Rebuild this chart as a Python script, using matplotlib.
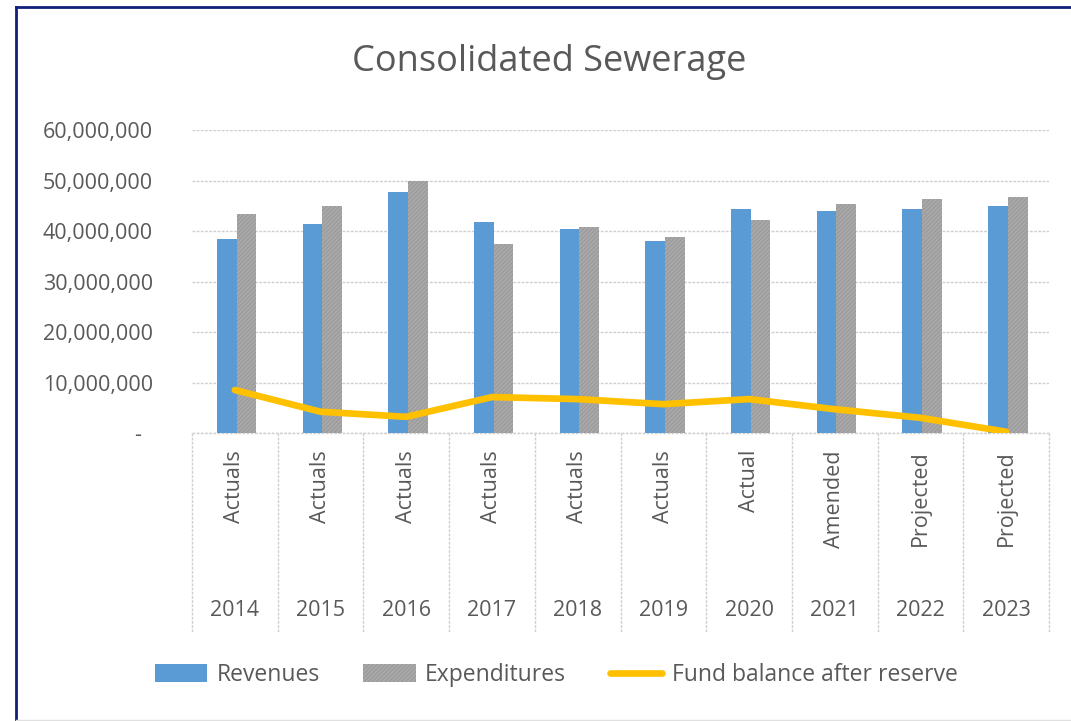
import matplotlib
matplotlib.use("Agg")
import matplotlib.pyplot as plt
import matplotlib.transforms as mtrans
from matplotlib.lines import Line2D
from matplotlib.ticker import FuncFormatter, MultipleLocator
import numpy as np

plt.rcParams['font.family'] = ['Open Sans', 'DejaVu Sans']
plt.rcParams['hatch.linewidth'] = 0.5

years = ['2014', '2015', '2016', '2017', '2018', '2019', '2020', '2021', '2022', '2023']
status = ['Actuals', 'Actuals', 'Actuals', 'Actuals', 'Actuals', 'Actuals',
          'Actual', 'Amended', 'Projected', 'Projected']
revenues = [38.5e6, 41.4e6, 47.8e6, 41.9e6, 40.4e6, 38.0e6, 44.4e6, 43.9e6, 44.4e6, 44.9e6]
expenditures = [43.4e6, 44.9e6, 49.9e6, 37.5e6, 40.9e6, 38.9e6, 42.3e6, 45.4e6, 46.3e6, 46.8e6]
fund_balance = [8.6e6, 4.3e6, 3.3e6, 7.2e6, 6.8e6, 5.8e6, 6.8e6, 4.8e6, 3.1e6, 0.35e6]

W, H = 1071, 721
fig = plt.figure(figsize=(W / 100, H / 100), dpi=100)
fig.patch.set_facecolor('white')

left, right, top, bottom = 192, 1049, 130, 433.5
ax = fig.add_axes([left / W, 1 - bottom / H, (right - left) / W, (bottom - top) / H])

x = np.arange(len(years))
bw = 0.23
text_col = '#595959'
grid_col = '#cfcfcf'

h_rev = ax.bar(x - bw / 2 + 0.02, revenues, width=bw, color='#5b9bd5', linewidth=0, zorder=3,
               label='Revenues')
h_exp = ax.bar(x + bw / 2 + 0.02, expenditures, width=bw, color='#a8a8a8', edgecolor='#939393',
               hatch='////////', linewidth=0, zorder=3, label='Expenditures')
h_fund, = ax.plot(x, fund_balance, color='#ffc000', linewidth=4.8, solid_joinstyle='round',
                  solid_capstyle='round', zorder=4, label='Fund balance after reserve')

ax.set_xlim(-0.5, len(years) - 0.5)
ax.set_ylim(0, 60e6)
ax.yaxis.set_major_locator(MultipleLocator(10e6))
ax.yaxis.set_major_formatter(FuncFormatter(lambda v, p: '-  ' if v == 0 else f'{v:,.0f}'))
ax.grid(axis='y', color=grid_col, linestyle=(0, (2, 1)), linewidth=1, zorder=0)
for s in ['top', 'right', 'left', 'bottom']:
    ax.spines[s].set_visible(False)
ax.tick_params(axis='y', length=0, pad=28, labelsize=15.5, labelcolor=text_col)
ax.tick_params(axis='x', length=0, labelbottom=False)

# multi-level category axis
trans = mtrans.blended_transform_factory(ax.transData, ax.transAxes)
ax_h = bottom - top
def yfrac(py):
    return (bottom - py) / ax_h

ax.add_line(Line2D([-0.5, len(years) - 0.5], [0, 0], transform=trans, color=grid_col,
                   linestyle=(0, (2, 1)), linewidth=1, clip_on=False, zorder=2))
for b in np.arange(-0.5, len(years), 1.0):
    ax.add_line(Line2D([b, b], [0, yfrac(632)], transform=trans, color=grid_col,
                       linestyle=(0, (2, 1)), linewidth=1, clip_on=False))
for i in range(len(years)):
    ax.text(x[i], yfrac(450), status[i], transform=trans, rotation=90, ha='center', va='top',
            fontsize=15.5, color=text_col)
    ax.text(x[i], yfrac(611), years[i], transform=trans, ha='center', va='center',
            fontsize=15.5, color=text_col)

fig.text(549 / W, 1 - 62 / H, 'Consolidated Sewerage', ha='center', va='center',
         fontsize=26, color=text_col)

leg = fig.legend([h_rev, h_exp, h_fund], ['Revenues', 'Expenditures', 'Fund balance after reserve'],
                 loc='center', bbox_to_anchor=(556 / W, 1 - 675 / H), ncol=3, frameon=False,
                 fontsize=16.5, handlelength=2.3, handleheight=0.8, handletextpad=0.4,
                 columnspacing=1.9, labelcolor=text_col)

# outer border
fig.add_artist(Line2D([16 / W, 16 / W], [0, 1 - 7 / H], color='#10207a', linewidth=2))
fig.add_artist(Line2D([16 / W, 1], [1 - 7 / H, 1 - 7 / H], color='#10207a', linewidth=2))
fig.add_artist(Line2D([16 / W, 1], [1 - 719.5 / H, 1 - 719.5 / H], color='#e0e0e0', linewidth=1))

fig.savefig('out.png', dpi=100)
